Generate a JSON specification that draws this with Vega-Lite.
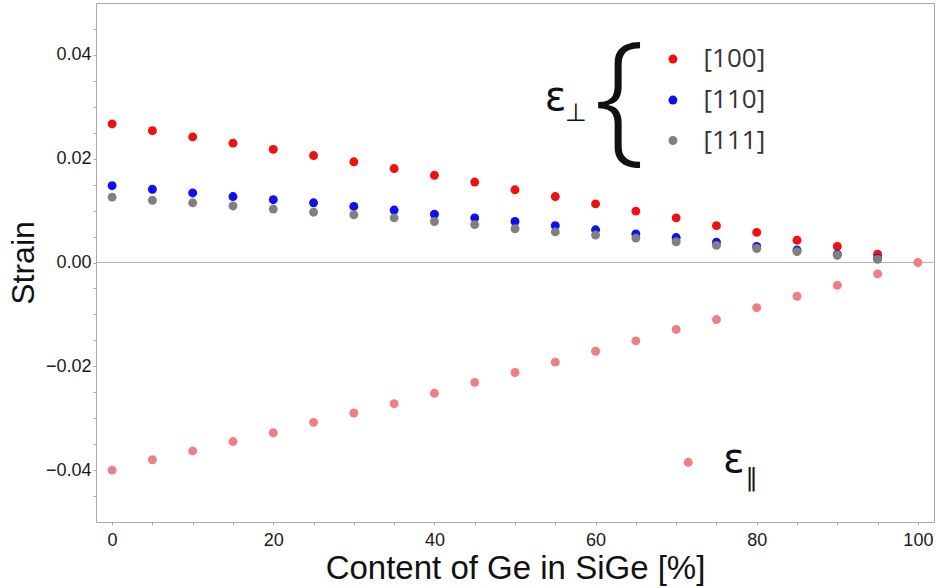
{
  "$schema": "https://vega.github.io/schema/vega-lite/v6.json",
  "width": 838,
  "height": 519,
  "autosize": {"type": "none"},
  "padding": {"left": 96, "top": 3, "right": 2, "bottom": 66},
  "config": {
    "font": "Liberation Sans",
    "view": {"stroke": "#a8a8a8", "strokeWidth": 1},
    "axis": {"domain": false, "grid": false, "tickColor": "#a8a8a8", "tickSize": 3, "labelColor": "#1a1a1a", "labelFontSize": 18, "titleColor": "#111111", "titleFontWeight": "normal", "titleFontSize": 33, "labelOverlap": false, "labelBound": false}
  },
  "datasets": {
    "zero": [{"strain": 0}],
    "pts": [
      {"x": 0, "strain": 0.0267, "series": "[100]"},
      {"x": 5, "strain": 0.0254, "series": "[100]"},
      {"x": 10, "strain": 0.0242, "series": "[100]"},
      {"x": 15, "strain": 0.0230, "series": "[100]"},
      {"x": 20, "strain": 0.0218, "series": "[100]"},
      {"x": 25, "strain": 0.0206, "series": "[100]"},
      {"x": 30, "strain": 0.0194, "series": "[100]"},
      {"x": 35, "strain": 0.0181, "series": "[100]"},
      {"x": 40, "strain": 0.0168, "series": "[100]"},
      {"x": 45, "strain": 0.0155, "series": "[100]"},
      {"x": 50, "strain": 0.0140, "series": "[100]"},
      {"x": 55, "strain": 0.0127, "series": "[100]"},
      {"x": 60, "strain": 0.0113, "series": "[100]"},
      {"x": 65, "strain": 0.0099, "series": "[100]"},
      {"x": 70, "strain": 0.0086, "series": "[100]"},
      {"x": 75, "strain": 0.0071, "series": "[100]"},
      {"x": 80, "strain": 0.0058, "series": "[100]"},
      {"x": 85, "strain": 0.0043, "series": "[100]"},
      {"x": 90, "strain": 0.0031, "series": "[100]"},
      {"x": 95, "strain": 0.0016, "series": "[100]"},
      {"x": 0, "strain": 0.0148, "series": "[110]"},
      {"x": 5, "strain": 0.0141, "series": "[110]"},
      {"x": 10, "strain": 0.0134, "series": "[110]"},
      {"x": 15, "strain": 0.0127, "series": "[110]"},
      {"x": 20, "strain": 0.0121, "series": "[110]"},
      {"x": 25, "strain": 0.0115, "series": "[110]"},
      {"x": 30, "strain": 0.0108, "series": "[110]"},
      {"x": 35, "strain": 0.0101, "series": "[110]"},
      {"x": 40, "strain": 0.0093, "series": "[110]"},
      {"x": 45, "strain": 0.0086, "series": "[110]"},
      {"x": 50, "strain": 0.0079, "series": "[110]"},
      {"x": 55, "strain": 0.0071, "series": "[110]"},
      {"x": 60, "strain": 0.0063, "series": "[110]"},
      {"x": 65, "strain": 0.0055, "series": "[110]"},
      {"x": 70, "strain": 0.0048, "series": "[110]"},
      {"x": 75, "strain": 0.0039, "series": "[110]"},
      {"x": 80, "strain": 0.0031, "series": "[110]"},
      {"x": 85, "strain": 0.0024, "series": "[110]"},
      {"x": 90, "strain": 0.0016, "series": "[110]"},
      {"x": 95, "strain": 0.0008, "series": "[110]"},
      {"x": 0, "strain": 0.0126, "series": "[111]"},
      {"x": 5, "strain": 0.0120, "series": "[111]"},
      {"x": 10, "strain": 0.0115, "series": "[111]"},
      {"x": 15, "strain": 0.0109, "series": "[111]"},
      {"x": 20, "strain": 0.0103, "series": "[111]"},
      {"x": 25, "strain": 0.0097, "series": "[111]"},
      {"x": 30, "strain": 0.0092, "series": "[111]"},
      {"x": 35, "strain": 0.0086, "series": "[111]"},
      {"x": 40, "strain": 0.0079, "series": "[111]"},
      {"x": 45, "strain": 0.0073, "series": "[111]"},
      {"x": 50, "strain": 0.0065, "series": "[111]"},
      {"x": 55, "strain": 0.0059, "series": "[111]"},
      {"x": 60, "strain": 0.0053, "series": "[111]"},
      {"x": 65, "strain": 0.0047, "series": "[111]"},
      {"x": 70, "strain": 0.0040, "series": "[111]"},
      {"x": 75, "strain": 0.0033, "series": "[111]"},
      {"x": 80, "strain": 0.0027, "series": "[111]"},
      {"x": 85, "strain": 0.0021, "series": "[111]"},
      {"x": 90, "strain": 0.0014, "series": "[111]"},
      {"x": 95, "strain": 0.0006, "series": "[111]"},
      {"x": 0, "strain": -0.0400, "series": "par"},
      {"x": 5, "strain": -0.0380, "series": "par"},
      {"x": 10, "strain": -0.0363, "series": "par"},
      {"x": 15, "strain": -0.0345, "series": "par"},
      {"x": 20, "strain": -0.0328, "series": "par"},
      {"x": 25, "strain": -0.0308, "series": "par"},
      {"x": 30, "strain": -0.0290, "series": "par"},
      {"x": 35, "strain": -0.0272, "series": "par"},
      {"x": 40, "strain": -0.0252, "series": "par"},
      {"x": 45, "strain": -0.0231, "series": "par"},
      {"x": 50, "strain": -0.0212, "series": "par"},
      {"x": 55, "strain": -0.0192, "series": "par"},
      {"x": 60, "strain": -0.0171, "series": "par"},
      {"x": 65, "strain": -0.0151, "series": "par"},
      {"x": 70, "strain": -0.0129, "series": "par"},
      {"x": 75, "strain": -0.0110, "series": "par"},
      {"x": 80, "strain": -0.0087, "series": "par"},
      {"x": 85, "strain": -0.0065, "series": "par"},
      {"x": 90, "strain": -0.0044, "series": "par"},
      {"x": 95, "strain": -0.0022, "series": "par"},
      {"x": 100, "strain": 0.0000, "series": "par"}
    ],
    "legendDots": [
      {"x": 69.6, "strain": 0.0392, "series": "[100]"},
      {"x": 69.6, "strain": 0.0313, "series": "[110]"},
      {"x": 69.6, "strain": 0.0235, "series": "[111]"},
      {"x": 71.5, "strain": -0.0385, "series": "par"}
    ],
    "legendLabels": [
      {"x": 73.4, "strain": 0.0392, "label": "[100]"},
      {"x": 73.4, "strain": 0.0313, "label": "[110]"},
      {"x": 73.4, "strain": 0.0235, "label": "[111]"}
    ],
    "eps": [
      {"x": 53.7, "strain": 0.0294, "label": "ε"},
      {"x": 75.8, "strain": -0.0404, "label": "ε"}
    ],
    "subs": [
      {"x": 56.2, "strain": 0.0273, "label": "⊥"},
      {"x": 78.6, "strain": -0.0431, "label": "∥"}
    ],
    "brace": [
      {"x": 63.0, "strain": 0.0309, "label": "{"}
    ]
  },
  "encoding": {
    "x": {"field": "x", "type": "quantitative", "scale": {"domain": [-2, 102], "nice": false, "zero": false},
      "axis": {"title": "Content of Ge in SiGe [%]", "values": [0,5,10,15,20,25,30,35,40,45,50,55,60,65,70,75,80,85,90,95,100], "labelExpr": "datum.value % 20 === 0 ? datum.label : ''", "labelPadding": 6, "titlePadding": 3}},
    "y": {"field": "strain", "type": "quantitative", "scale": {"domain": [-0.05, 0.05], "nice": false},
      "axis": {"title": "Strain", "titleFontSize": 32, "values": [-0.045,-0.04,-0.035,-0.03,-0.025,-0.02,-0.015,-0.01,-0.005,0,0.005,0.01,0.015,0.02,0.025,0.03,0.035,0.04,0.045], "format": ".2f", "labelExpr": "abs(round(datum.value*1000)) % 20 === 0 ? datum.label : ''", "labelPadding": 2, "titlePadding": 5}}
  },
  "layer": [
    {
      "data": {"name": "zero"},
      "mark": {"type": "rule", "color": "#b4b4b4", "strokeWidth": 1},
      "encoding": {"x": {"value": 0}, "x2": {"value": 838}}
    },
    {
      "data": {"name": "pts"},
      "mark": {"type": "point", "filled": true, "opacity": 1, "size": 80},
      "encoding": {
        "color": {"field": "series", "type": "nominal", "legend": null,
          "scale": {"domain": ["[100]", "[110]", "[111]", "par"], "range": ["#f01010", "#1010ee", "#808080", "#ef7f86"]}}
      }
    },
    {
      "data": {"name": "legendDots"},
      "mark": {"type": "point", "filled": true, "opacity": 1, "size": 80},
      "encoding": {
        "color": {"field": "series", "type": "nominal", "legend": null}
      }
    },
    {
      "data": {"name": "legendLabels"},
      "mark": {"type": "text", "align": "left", "baseline": "middle", "font": "Open Sans", "fontSize": 26, "color": "#333333"},
      "encoding": {"text": {"field": "label"}}
    },
    {
      "data": {"name": "eps"},
      "mark": {"type": "text", "align": "left", "baseline": "alphabetic", "font": "DejaVu Sans", "fontSize": 40, "color": "#111111"},
      "encoding": {"text": {"field": "label"}}
    },
    {
      "data": {"name": "subs"},
      "mark": {"type": "text", "align": "left", "baseline": "alphabetic", "font": "DejaVu Sans", "fontSize": 25, "color": "#111111"},
      "encoding": {"text": {"field": "label"}}
    },
    {
      "data": {"name": "brace"},
      "mark": {"type": "text", "align": "center", "baseline": "middle", "font": "Open Sans", "fontWeight": 300, "fontSize": 144, "color": "#111111"},
      "encoding": {"text": {"field": "label"}}
    }
  ]
}
